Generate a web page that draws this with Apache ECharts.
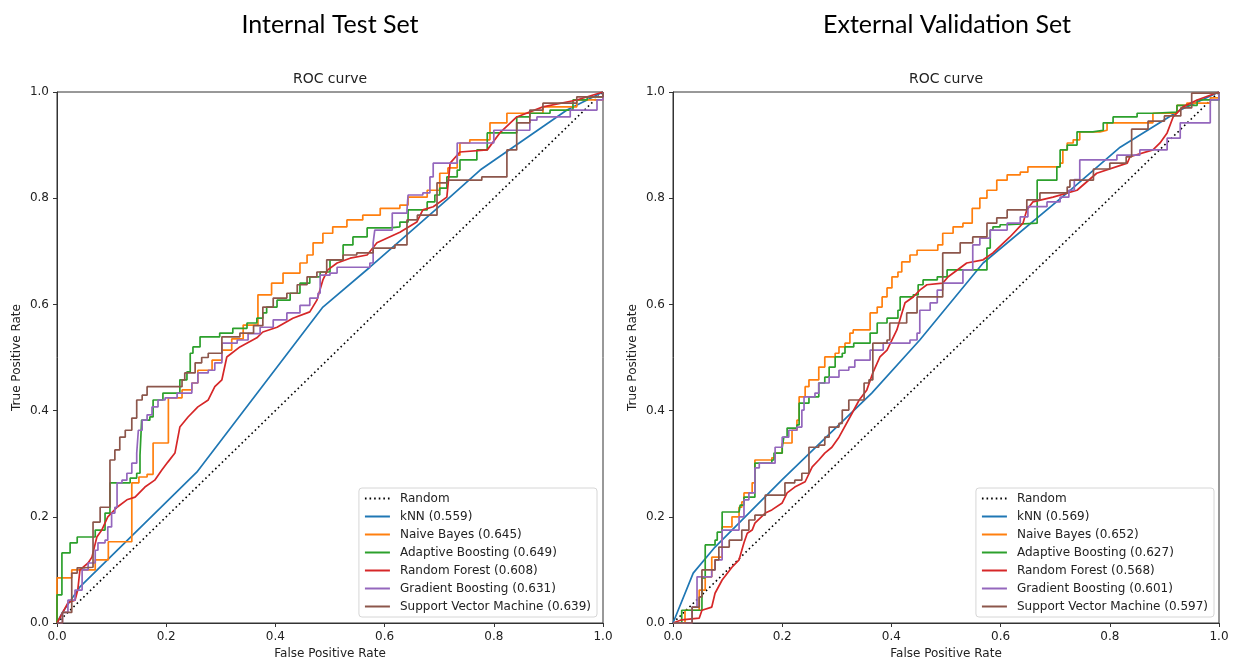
<!DOCTYPE html>
<html>
<head>
<meta charset="utf-8">
<script src="https://cdn.jsdelivr.net/npm/echarts@6/dist/echarts.min.js"></script>
<style>
html, body { margin: 0; padding: 0; background: #fff; }
#chart { width: 1234px; height: 662px; }
</style>
</head>
<body>
<div id="chart"></div>
<script>
// model order, colours and AUC values shown in the legends
const modelNames = ['kNN', 'Naive Bayes', 'Adaptive Boosting', 'Random Forest', 'Gradient Boosting', 'Support Vector Machine'];
const modelColors = ['#1f77b4', '#ff7f0e', '#2ca02c', '#d62728', '#9467bd', '#8c564b'];
const modelStep = [false, true, true, false, true, true];
const intAuc = [0.559, 0.645, 0.649, 0.608, 0.631, 0.639];
const extAuc = [0.569, 0.652, 0.627, 0.568, 0.601, 0.597];
const tickLabels = ['0.0', '0.2', '0.4', '0.6', '0.8', '1.0'];
const randomLine = [[0, 0], [1, 1]];

// Internal test set, [fpr, tpr]
const intKnn = [[0,0],[0.01,0.02],[0.042,0.068],[0.256,0.284],[0.487,0.595],[0.573,0.67],[0.714,0.797],[0.775,0.853],[0.934,0.966],[1,1]];
const intNaiveBayes = [[0,0],[0,0.085],[0.027,0.1],[0.07,0.119],[0.094,0.153],[0.137,0.264],[0.15,0.275],[0.165,0.28],[0.176,0.339],[0.204,0.424],[0.229,0.439],[0.247,0.452],[0.258,0.476],[0.284,0.495],[0.302,0.514],[0.32,0.535],[0.341,0.561],[0.368,0.618],[0.393,0.64],[0.414,0.659],[0.445,0.678],[0.458,0.693],[0.469,0.716],[0.487,0.734],[0.505,0.746],[0.531,0.759],[0.56,0.768],[0.592,0.781],[0.628,0.787],[0.643,0.802],[0.678,0.815],[0.701,0.847],[0.716,0.857],[0.733,0.881],[0.738,0.904],[0.756,0.91],[0.793,0.942],[0.824,0.96],[0.89,0.972],[0.952,0.985],[1,1]];
const intAdaBoost = [[0,0],[0,0.053],[0.009,0.132],[0.024,0.151],[0.037,0.162],[0.07,0.175],[0.088,0.207],[0.097,0.264],[0.134,0.273],[0.146,0.282],[0.152,0.316],[0.155,0.382],[0.17,0.388],[0.176,0.42],[0.194,0.433],[0.225,0.458],[0.238,0.473],[0.244,0.508],[0.249,0.52],[0.262,0.539],[0.298,0.546],[0.322,0.555],[0.348,0.565],[0.366,0.574],[0.377,0.584],[0.384,0.595],[0.403,0.608],[0.427,0.621],[0.445,0.64],[0.463,0.652],[0.482,0.661],[0.5,0.684],[0.524,0.712],[0.542,0.727],[0.568,0.744],[0.61,0.746],[0.628,0.755],[0.643,0.778],[0.678,0.793],[0.692,0.806],[0.701,0.819],[0.714,0.84],[0.733,0.853],[0.738,0.872],[0.769,0.891],[0.788,0.923],[0.842,0.953],[0.866,0.96],[0.903,0.966],[0.945,0.985],[0.971,0.991],[1,1]];
const intRandomForest = [[0,0],[0.02,0.038],[0.033,0.043],[0.038,0.062],[0.042,0.1],[0.057,0.113],[0.064,0.124],[0.073,0.162],[0.082,0.175],[0.093,0.2],[0.11,0.218],[0.128,0.232],[0.143,0.237],[0.161,0.256],[0.179,0.269],[0.192,0.288],[0.203,0.303],[0.216,0.32],[0.225,0.369],[0.24,0.388],[0.258,0.407],[0.277,0.42],[0.289,0.445],[0.302,0.458],[0.311,0.501],[0.335,0.52],[0.366,0.537],[0.377,0.548],[0.403,0.557],[0.432,0.574],[0.463,0.586],[0.476,0.608],[0.487,0.646],[0.496,0.665],[0.513,0.678],[0.537,0.687],[0.568,0.693],[0.586,0.716],[0.628,0.736],[0.659,0.755],[0.67,0.778],[0.689,0.784],[0.714,0.802],[0.72,0.866],[0.738,0.887],[0.788,0.891],[0.811,0.923],[0.842,0.953],[0.89,0.972],[0.952,0.985],[1,1]];
const intGradBoost = [[0,0],[0.01,0.02],[0.02,0.043],[0.033,0.062],[0.046,0.1],[0.057,0.113],[0.07,0.137],[0.075,0.151],[0.088,0.156],[0.093,0.181],[0.1,0.207],[0.106,0.218],[0.11,0.264],[0.119,0.269],[0.128,0.282],[0.137,0.301],[0.146,0.32],[0.149,0.363],[0.156,0.382],[0.165,0.392],[0.174,0.407],[0.185,0.42],[0.198,0.424],[0.22,0.433],[0.247,0.452],[0.258,0.471],[0.277,0.476],[0.289,0.49],[0.302,0.527],[0.33,0.533],[0.35,0.545],[0.372,0.557],[0.396,0.571],[0.421,0.584],[0.445,0.598],[0.463,0.612],[0.478,0.621],[0.482,0.655],[0.5,0.659],[0.513,0.67],[0.573,0.678],[0.579,0.716],[0.582,0.74],[0.614,0.772],[0.641,0.778],[0.643,0.806],[0.67,0.81],[0.683,0.84],[0.689,0.866],[0.733,0.904],[0.8,0.928],[0.866,0.947],[0.879,0.953],[0.94,0.966],[0.989,0.985],[1,1]];
const intSvm = [[0,0],[0.01,0.02],[0.027,0.094],[0.037,0.104],[0.051,0.105],[0.066,0.19],[0.079,0.218],[0.097,0.307],[0.106,0.326],[0.115,0.35],[0.125,0.363],[0.137,0.386],[0.146,0.42],[0.156,0.429],[0.165,0.445],[0.216,0.445],[0.229,0.458],[0.234,0.471],[0.253,0.49],[0.265,0.5],[0.277,0.508],[0.302,0.539],[0.335,0.546],[0.36,0.56],[0.377,0.595],[0.396,0.612],[0.421,0.621],[0.44,0.637],[0.458,0.652],[0.476,0.661],[0.494,0.684],[0.524,0.693],[0.549,0.697],[0.579,0.706],[0.619,0.712],[0.641,0.759],[0.66,0.768],[0.696,0.829],[0.715,0.834],[0.778,0.84],[0.824,0.891],[0.842,0.942],[0.866,0.966],[0.89,0.979],[0.952,0.991],[1,1]];

// External validation set, [fpr, tpr]
const extKnn = [[0,0],[0.037,0.094],[0.077,0.143],[0.2,0.27],[0.364,0.433],[0.452,0.533],[0.568,0.678],[0.722,0.81],[0.819,0.896],[0.929,0.966],[1,1]];
const extNaiveBayes = [[0,0],[0.022,0.024],[0.048,0.062],[0.059,0.087],[0.071,0.124],[0.09,0.181],[0.108,0.2],[0.121,0.218],[0.126,0.228],[0.13,0.245],[0.145,0.264],[0.15,0.307],[0.181,0.311],[0.187,0.32],[0.2,0.339],[0.218,0.363],[0.227,0.382],[0.231,0.426],[0.242,0.445],[0.249,0.458],[0.267,0.482],[0.278,0.501],[0.297,0.508],[0.304,0.52],[0.315,0.527],[0.324,0.546],[0.33,0.552],[0.361,0.584],[0.374,0.595],[0.383,0.614],[0.392,0.631],[0.401,0.652],[0.412,0.661],[0.419,0.68],[0.434,0.693],[0.447,0.702],[0.485,0.712],[0.494,0.734],[0.513,0.746],[0.531,0.753],[0.548,0.781],[0.562,0.8],[0.575,0.815],[0.593,0.834],[0.612,0.844],[0.636,0.849],[0.65,0.859],[0.709,0.866],[0.714,0.891],[0.722,0.904],[0.733,0.91],[0.745,0.925],[0.782,0.928],[0.795,0.942],[0.879,0.96],[0.923,0.975],[0.941,0.979],[0.984,0.989],[1,1]];
const extAdaBoost = [[0,0],[0.016,0.024],[0.053,0.085],[0.059,0.147],[0.077,0.156],[0.081,0.171],[0.09,0.209],[0.121,0.209],[0.123,0.222],[0.13,0.237],[0.15,0.301],[0.181,0.307],[0.185,0.32],[0.2,0.331],[0.203,0.35],[0.209,0.367],[0.227,0.373],[0.231,0.414],[0.249,0.426],[0.267,0.452],[0.278,0.463],[0.286,0.482],[0.297,0.501],[0.31,0.508],[0.315,0.52],[0.331,0.527],[0.361,0.546],[0.374,0.565],[0.392,0.574],[0.412,0.589],[0.416,0.614],[0.44,0.618],[0.449,0.637],[0.458,0.646],[0.484,0.652],[0.502,0.665],[0.575,0.706],[0.581,0.74],[0.586,0.746],[0.599,0.75],[0.612,0.753],[0.667,0.834],[0.703,0.859],[0.709,0.891],[0.722,0.9],[0.74,0.925],[0.769,0.928],[0.788,0.942],[0.806,0.953],[0.85,0.96],[0.879,0.962],[0.923,0.975],[0.96,0.985],[1,1]];
const extRandomForest = [[0,0],[0.016,0.006],[0.048,0.009],[0.053,0.024],[0.071,0.03],[0.077,0.056],[0.09,0.081],[0.108,0.105],[0.121,0.119],[0.13,0.151],[0.136,0.169],[0.145,0.175],[0.15,0.188],[0.169,0.207],[0.181,0.213],[0.2,0.226],[0.209,0.245],[0.223,0.256],[0.242,0.266],[0.255,0.294],[0.267,0.307],[0.278,0.32],[0.291,0.331],[0.304,0.35],[0.328,0.395],[0.341,0.42],[0.355,0.439],[0.366,0.471],[0.379,0.501],[0.392,0.514],[0.41,0.552],[0.425,0.603],[0.44,0.614],[0.452,0.627],[0.465,0.637],[0.494,0.64],[0.504,0.652],[0.538,0.678],[0.568,0.684],[0.586,0.697],[0.617,0.727],[0.641,0.753],[0.648,0.778],[0.659,0.793],[0.696,0.802],[0.74,0.815],[0.776,0.847],[0.832,0.866],[0.837,0.878],[0.879,0.891],[0.892,0.904],[0.905,0.923],[0.916,0.953],[0.934,0.972],[0.96,0.985],[1,1]];
const extGradBoost = [[0,0],[0.035,0.03],[0.044,0.056],[0.044,0.087],[0.071,0.1],[0.077,0.119],[0.09,0.175],[0.121,0.2],[0.13,0.232],[0.139,0.245],[0.15,0.292],[0.158,0.301],[0.187,0.331],[0.2,0.35],[0.212,0.363],[0.227,0.369],[0.236,0.401],[0.24,0.426],[0.26,0.433],[0.267,0.452],[0.286,0.463],[0.304,0.476],[0.322,0.482],[0.333,0.495],[0.361,0.514],[0.385,0.527],[0.434,0.533],[0.447,0.546],[0.452,0.589],[0.471,0.603],[0.484,0.627],[0.494,0.64],[0.531,0.665],[0.549,0.712],[0.562,0.725],[0.581,0.74],[0.612,0.753],[0.636,0.765],[0.65,0.784],[0.685,0.793],[0.709,0.802],[0.725,0.815],[0.735,0.835],[0.745,0.872],[0.813,0.881],[0.855,0.891],[0.905,0.913],[0.929,0.942],[0.984,0.985],[1,1]];
const extSvm = [[0,0],[0.035,0.03],[0.048,0.049],[0.053,0.1],[0.077,0.119],[0.084,0.143],[0.103,0.156],[0.126,0.175],[0.139,0.194],[0.15,0.203],[0.169,0.241],[0.205,0.264],[0.223,0.269],[0.236,0.282],[0.249,0.331],[0.267,0.335],[0.278,0.35],[0.286,0.369],[0.304,0.376],[0.31,0.401],[0.322,0.42],[0.35,0.452],[0.359,0.458],[0.366,0.527],[0.392,0.533],[0.397,0.565],[0.428,0.584],[0.447,0.614],[0.494,0.697],[0.526,0.716],[0.549,0.727],[0.575,0.753],[0.593,0.763],[0.612,0.778],[0.648,0.797],[0.672,0.81],[0.722,0.821],[0.727,0.834],[0.77,0.855],[0.8,0.866],[0.83,0.878],[0.84,0.93],[0.87,0.945],[0.9,0.955],[0.93,0.97],[0.95,0.998],[1,1]];

const intCurves = [intKnn, intNaiveBayes, intAdaBoost, intRandomForest, intGradBoost, intSvm];
const extCurves = [extKnn, extNaiveBayes, extAdaBoost, extRandomForest, extGradBoost, extSvm];

const mplFont = 'DejaVu Sans';
const axisColor = '#333';

function makeAxis(type, idx) {
  return {
    type: 'value',
    gridIndex: idx,
    min: 0,
    max: 1,
    interval: 0.2,
    name: type === 'x' ? 'False Positive Rate' : 'True Positive Rate',
    nameLocation: 'middle',
    nameGap: type === 'x' ? 24 : 34,
    nameTextStyle: { fontFamily: mplFont, fontSize: 12, color: '#222' },
    splitLine: { show: false },
    axisLine: { show: true, onZero: false, lineStyle: { color: axisColor, width: 1 } },
    axisTick: { show: true, inside: false, length: 4, lineStyle: { color: axisColor } },
    axisLabel: {
      fontFamily: mplFont,
      fontSize: 12,
      color: '#222',
      margin: 8,
      formatter: v => tickLabels[Math.round(v * 5)]
    }
  };
}

function makeSeries(idx, curves, auc) {
  let list = [{
    name: 'Random',
    type: 'line',
    xAxisIndex: idx,
    yAxisIndex: idx,
    data: randomLine,
    symbol: 'none',
    silent: true,
    lineStyle: { color: '#000', width: 1.6, type: [1.6, 3] },
    itemStyle: { color: '#000' }
  }];
  curves.forEach((curve, i) => {
    list.push({
      name: modelNames[i] + ' (' + auc[i].toFixed(3) + ')',
      type: 'line',
      xAxisIndex: idx,
      yAxisIndex: idx,
      data: curve,
      symbol: 'none',
      step: modelStep[i] ? 'end' : false,
      silent: true,
      lineStyle: { color: modelColors[i], width: 1.7 },
      itemStyle: { color: modelColors[i] }
    });
  });
  return list;
}

function makeLegend(right, auc) {
  return {
    orient: 'vertical',
    right: right,
    bottom: 45,
    itemWidth: 25,
    itemHeight: 12,
    itemGap: 5,
    padding: [4, 6, 4, 5],
    backgroundColor: '#fff',
    borderColor: '#d6d6d6',
    borderWidth: 1,
    borderRadius: 3,
    selectedMode: false,
    itemStyle: { opacity: 0 },
    data: ['Random'].concat(modelNames.map((n, i) => n + ' (' + auc[i].toFixed(3) + ')')),
    textStyle: { fontFamily: mplFont, fontSize: 12, color: '#222', lineHeight: 13, padding: [0, 0, 0, 5] }
  };
}

const chart = echarts.init(document.getElementById('chart'), null, { renderer: 'canvas' });
const option = {
  animation: false,
  backgroundColor: '#fff',
  title: [
    { text: 'Internal Test Set', left: 325, top: 7, textAlign: 'center',
      textStyle: { fontFamily: 'Lato', fontSize: 25, fontWeight: 'normal', color: '#000' } },
    { text: 'External Validation Set', left: 942, top: 7, textAlign: 'center',
      textStyle: { fontFamily: 'Lato', fontSize: 25, fontWeight: 'normal', color: '#000' } },
    { text: 'ROC curve', left: 325, top: 67, textAlign: 'center',
      textStyle: { fontFamily: mplFont, fontSize: 14, fontWeight: 'normal', color: '#222' } },
    { text: 'ROC curve', left: 941, top: 67, textAlign: 'center',
      textStyle: { fontFamily: mplFont, fontSize: 14, fontWeight: 'normal', color: '#222' } }
  ],
  grid: [
    { left: 57, right: 631, top: 92, bottom: 39, containLabel: false, outerBoundsMode: 'none',
      show: true, borderColor: axisColor, borderWidth: 1, backgroundColor: 'transparent' },
    { left: 673, right: 15, top: 92, bottom: 39, containLabel: false, outerBoundsMode: 'none',
      show: true, borderColor: axisColor, borderWidth: 1, backgroundColor: 'transparent' }
  ],
  xAxis: [makeAxis('x', 0), makeAxis('x', 1)],
  yAxis: [makeAxis('y', 0), makeAxis('y', 1)],
  legend: [makeLegend(637, intAuc), makeLegend(20, extAuc)],
  series: makeSeries(0, intCurves, intAuc).concat(makeSeries(1, extCurves, extAuc))
};
chart.setOption(option);
</script>
</body>
</html>
